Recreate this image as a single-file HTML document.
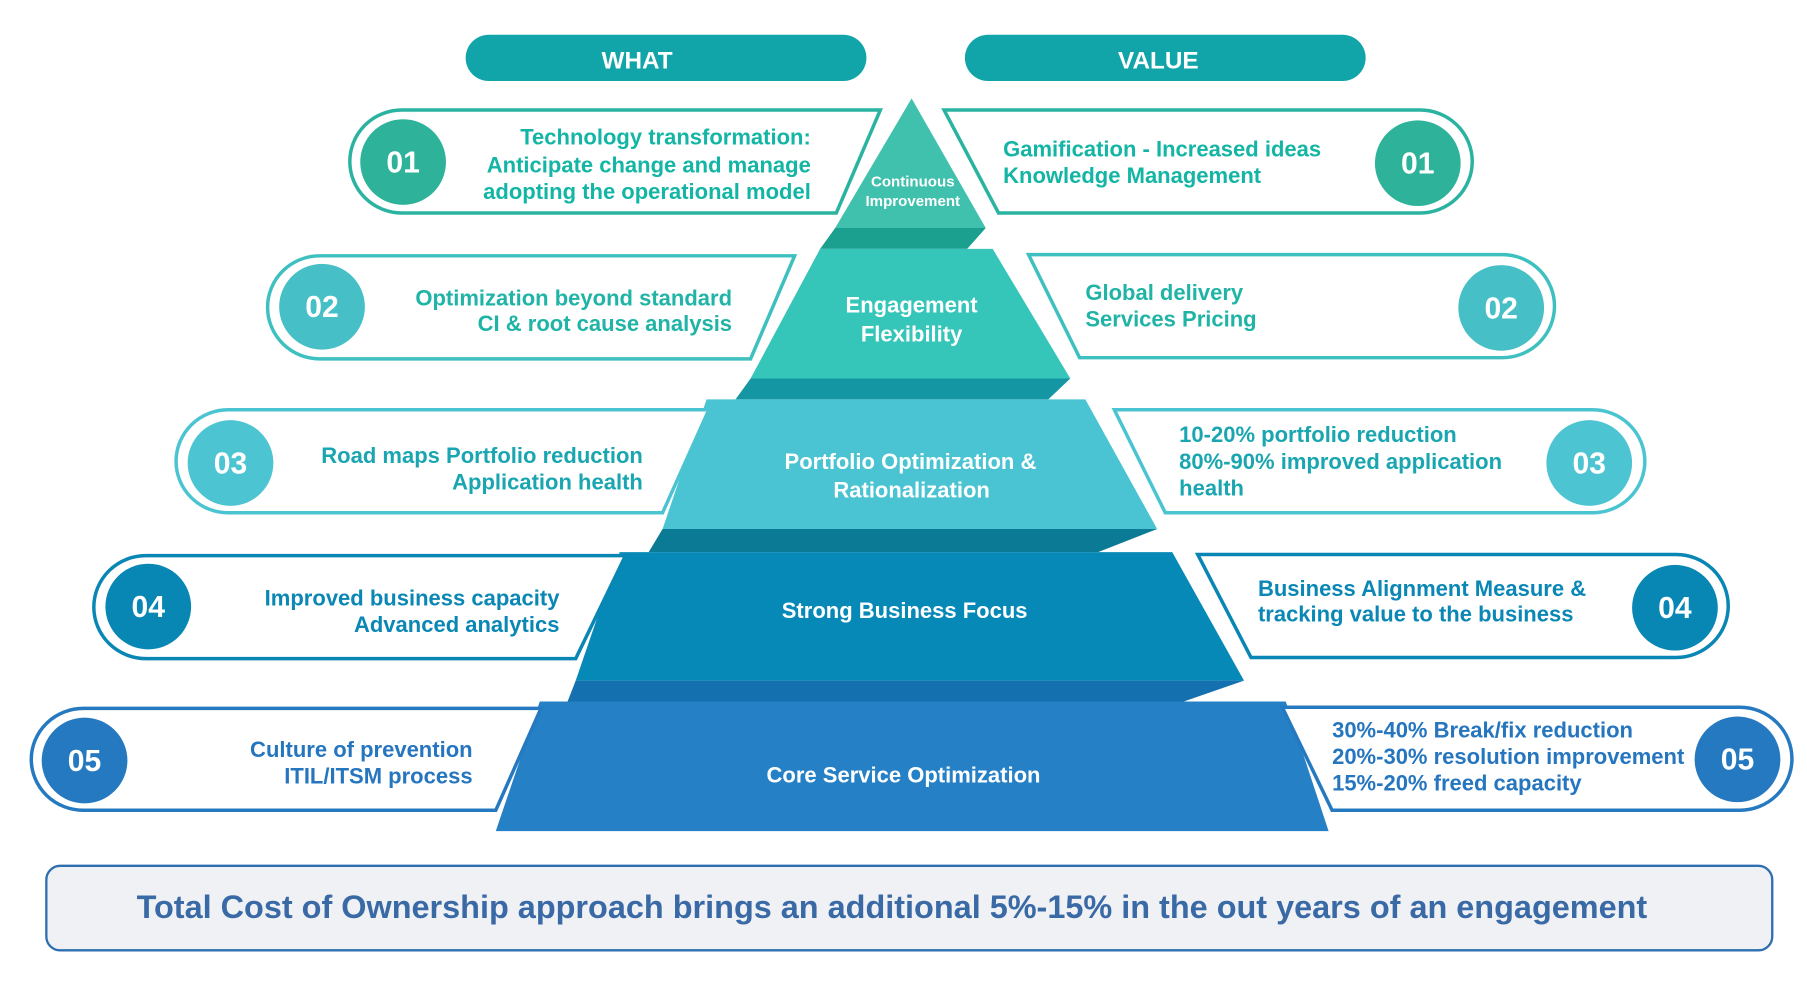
<!DOCTYPE html>
<html><head><meta charset="utf-8"><style>
html,body{margin:0;padding:0;background:#fff;}
svg{display:block;}
text{font-family:"Liberation Sans",Arial,sans-serif;font-weight:bold;}
</style></head><body>
<svg width="1807" height="992" viewBox="0 0 1560 857" preserveAspectRatio="none" xmlns="http://www.w3.org/2000/svg">
<!-- header pills -->
<rect x="402" y="30" width="346" height="40" rx="20" fill="#11a5a9"/>
<text x="550" y="59" font-size="21" fill="#fff" text-anchor="middle">WHAT</text>
<rect x="833" y="30" width="346" height="40" rx="20" fill="#11a5a9"/>
<text x="1000" y="59" font-size="21" fill="#fff" text-anchor="middle">VALUE</text>

<!-- pyramid -->
<polygon points="787,85 851,197 721,197" fill="#40c1ae"/>
<polygon points="721,197 851,197 835,215 708,215" fill="#1ba090"/>
<polygon points="708,215 857,215 924,327 648,327" fill="#35c5b9"/>
<polygon points="648,327 924,327 905,345 635,345" fill="#1596a3"/>
<polygon points="610,345 937,345 999,457 572,457" fill="#4ac4d2"/>
<polygon points="572,457 999,457 948,477 560,477" fill="#0a7a95"/>
<polygon points="535,477 1012,477 1074,588 497,588" fill="#0789b8"/>
<polygon points="497,588 1074,588 1022,606 490,606" fill="#1470ae"/>
<polygon points="466,606 1110,606 1147,718 428,718" fill="#2680c6"/>

<text x="788" y="161" font-size="13" fill="#fff" text-anchor="middle">Continuous</text>
<text x="788" y="178" font-size="13" fill="#fff" text-anchor="middle">Improvement</text>
<text x="787" y="270" font-size="19" fill="#fff" text-anchor="middle">Engagement</text>
<text x="787" y="295" font-size="19" fill="#fff" text-anchor="middle">Flexibility</text>
<text x="786" y="405" font-size="19" fill="#fff" text-anchor="middle">Portfolio Optimization &amp;</text>
<text x="787" y="430" font-size="19" fill="#fff" text-anchor="middle">Rationalization</text>
<text x="781" y="534" font-size="19" fill="#fff" text-anchor="middle">Strong Business Focus</text>
<text x="780" y="676" font-size="19" fill="#fff" text-anchor="middle">Core Service Optimization</text>

<!-- left cards -->
<g fill="#fff" stroke-width="3">
<path d="M347,95 L760,95 L722,184 L347,184 A45,44.5 0 0 1 347,95 Z" stroke="#2ab3a0"/>
<path d="M276,221 L686,221 L648,310 L276,310 A45,44.5 0 0 1 276,221 Z" stroke="#3fc0c0"/>
<path d="M197,354 L612,354 L572,443 L197,443 A45,44.5 0 0 1 197,354 Z" stroke="#4bc4d2"/>
<path d="M126,480 L540,480 L497,569 L126,569 A45,44.5 0 0 1 126,480 Z" stroke="#0886b4"/>
<path d="M72,612 L467,612 L428,700 L72,700 A45,44 0 0 1 72,612 Z" stroke="#2479c0"/>
</g>
<circle cx="348" cy="140" r="37" fill="#2eb39a"/>
<circle cx="278" cy="265" r="37" fill="#46bfc6"/>
<circle cx="199" cy="400" r="37" fill="#4dc4d2"/>
<circle cx="128" cy="524" r="37" fill="#0886b4"/>
<circle cx="73" cy="657" r="37" fill="#2479c0"/>
<g font-size="26" fill="#fff" text-anchor="middle">
<text x="348" y="149">01</text><text x="278" y="274">02</text><text x="199" y="409">03</text><text x="128" y="533">04</text><text x="73" y="666">05</text>
</g>
<g font-size="19" text-anchor="end">
<text x="700" y="125" fill="#13b5a5">Technology transformation:</text>
<text x="700" y="149" fill="#13b5a5">Anticipate change and manage</text>
<text x="700" y="172" fill="#13b5a5">adopting the operational model</text>
<text x="632" y="264" fill="#1fb4a6">Optimization beyond standard</text>
<text x="632" y="286" fill="#1fb4a6">CI &amp; root cause analysis</text>
<text x="555" y="400" fill="#19a6b0">Road maps Portfolio reduction</text>
<text x="555" y="423" fill="#19a6b0">Application health</text>
<text x="483" y="523" fill="#0a87b5">Improved business capacity</text>
<text x="483" y="546" fill="#0a87b5">Advanced analytics</text>
<text x="408" y="654" fill="#2575bf">Culture of prevention</text>
<text x="408" y="677" fill="#2575bf">ITIL/ITSM process</text>
</g>

<!-- right cards -->
<g fill="#fff" stroke-width="3">
<path d="M815,95 L1226,95 A45,44.5 0 0 1 1226,184 L862,184 Z" stroke="#2ab3a0"/>
<path d="M888,220 L1297,220 A45,44.5 0 0 1 1297,309 L932,309 Z" stroke="#3fc0c0"/>
<path d="M962,354 L1375,354 A45,44.5 0 0 1 1375,443 L1006,443 Z" stroke="#4bc4d2"/>
<path d="M1034,479 L1447,479 A45,44.5 0 0 1 1447,568 L1080,568 Z" stroke="#0886b4"/>
<path d="M1107,611 L1502,611 A45,44.5 0 0 1 1502,700 L1150,700 Z" stroke="#2479c0"/>
</g>
<circle cx="1224" cy="141" r="37" fill="#2eb39a"/>
<circle cx="1296" cy="266" r="37" fill="#46bfc6"/>
<circle cx="1372" cy="400" r="37" fill="#4dc4d2"/>
<circle cx="1446" cy="525" r="37" fill="#0886b4"/>
<circle cx="1500" cy="656" r="37" fill="#2479c0"/>
<g font-size="26" fill="#fff" text-anchor="middle">
<text x="1224" y="150">01</text><text x="1296" y="275">02</text><text x="1372" y="409">03</text><text x="1446" y="534">04</text><text x="1500" y="665">05</text>
</g>
<g font-size="19">
<text x="866" y="135" fill="#13b5a5">Gamification - Increased ideas</text>
<text x="866" y="158" fill="#13b5a5">Knowledge Management</text>
<text x="937" y="259" fill="#1fb4a6">Global delivery</text>
<text x="937" y="282" fill="#1fb4a6">Services Pricing</text>
<text x="1018" y="382" fill="#19a6b0">10-20% portfolio reduction</text>
<text x="1018" y="405" fill="#19a6b0">80%-90% improved application</text>
<text x="1018" y="428" fill="#19a6b0">health</text>
<text x="1086" y="515" fill="#0a87b5">Business Alignment Measure &amp;</text>
<text x="1086" y="537" fill="#0a87b5">tracking value to the business</text>
<text x="1150" y="637" fill="#2575bf">30%-40% Break/fix reduction</text>
<text x="1150" y="660" fill="#2575bf">20%-30% resolution improvement</text>
<text x="1150" y="683" fill="#2575bf">15%-20% freed capacity</text>
</g>

<!-- bottom -->
<rect x="40" y="748" width="1490" height="73" rx="12" fill="#eff1f4" stroke="#2f6fb0" stroke-width="2"/>
<text x="770" y="793" font-size="28" fill="#3a6aa6" text-anchor="middle">Total Cost of Ownership approach brings an additional 5%-15% in the out years of an engagement</text>
</svg>
</body></html>
